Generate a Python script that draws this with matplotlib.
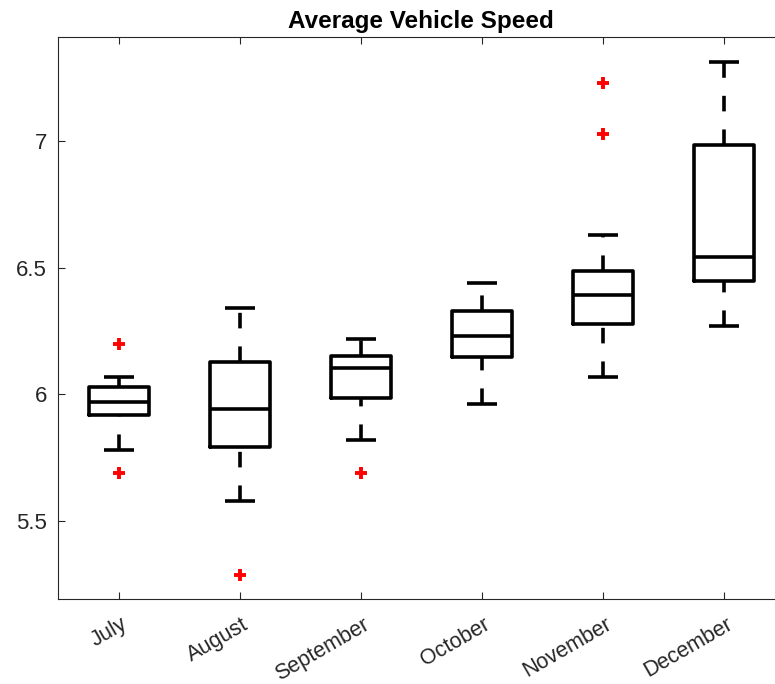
import matplotlib
matplotlib.use("Agg")
import matplotlib.pyplot as plt
import matplotlib.transforms as mtransforms

plt.rcParams["font.family"] = ["Liberation Sans", "DejaVu Sans"]
plt.rcParams["lines.scale_dashes"] = False

# Monthly speed distributions (box-plot summary statistics)
months = ["July", "August", "September", "October", "November", "December"]
q1 = [5.918, 5.793, 5.984, 6.146, 6.278, 6.447]
medians = [5.971, 5.942, 6.103, 6.231, 6.392, 6.541]
q3 = [6.030, 6.126, 6.151, 6.329, 6.487, 6.984]
whisker_low = [5.780, 5.579, 5.820, 5.961, 6.069, 6.270]
whisker_high = [6.069, 6.339, 6.220, 6.441, 6.630, 7.311]
outliers = [[6.199, 5.688], [5.287], [5.688], [], [7.230, 7.028], []]
y_ticks = [5.5, 6, 6.5, 7]
y_tick_labels = ["5.5", "6", "6.5", "7"]

axis_gray = "#262626"

stats = [
    dict(label=m, q1=a, med=b, q3=c, whislo=lo, whishi=hi, fliers=f)
    for m, a, b, c, lo, hi, f in zip(months, q1, medians, q3,
                                     whisker_low, whisker_high, outliers)
]

fig = plt.figure(figsize=(7.75, 6.84), dpi=100)
ax = fig.add_axes([0.0752, 0.1247, 0.937, 0.8208])

lw = 2.6
art = ax.bxp(
    stats,
    positions=range(1, len(months) + 1),
    widths=0.5,
    capwidths=0.25,
    showfliers=True,
    boxprops=dict(color="black", linewidth=lw, solid_joinstyle="round",
                  solid_capstyle="round"),
    medianprops=dict(color="black", linewidth=lw, solid_capstyle="butt"),
    whiskerprops=dict(color="black", linewidth=lw,
                      linestyle=(0, (11.2, 13.0)), dash_capstyle="butt"),
    capprops=dict(color="black", linewidth=lw, solid_capstyle="butt"),
    flierprops=dict(marker="+", markeredgecolor="red", markerfacecolor="red",
                    markersize=9, markeredgewidth=2.8, linestyle="none"),
)

# Lower whiskers run upward from the cap to the box
for w in art["whiskers"][0::2]:
    w.set_ydata(list(w.get_ydata())[::-1])

ax.set_xlim(0.5, 6.5)
ax.set_ylim(5.193, 7.409)
ax.set_yticks(y_ticks)
ax.set_yticklabels(y_tick_labels)
ax.set_xticks(range(1, len(months) + 1))
ax.set_xticklabels(months, rotation=30, ha="right", rotation_mode="anchor",
                   va="center")

ax.tick_params(direction="in", length=5, width=0.8, color=axis_gray,
               labelcolor=axis_gray, labelsize=16, top=True, right=True)
ax.tick_params(axis="y", pad=8)
ax.tick_params(axis="x", labelsize=15.5, pad=14)

# Nudge the slanted month names so each one ends just right of its tick
shift = mtransforms.ScaledTranslation(7 / 100, -5 / 100, fig.dpi_scale_trans)
for lab in ax.get_xticklabels():
    lab.set_transform(lab.get_transform() + shift)

for s in ax.spines.values():
    s.set_color(axis_gray)
    s.set_linewidth(0.8)

ax.set_title("Average Vehicle Speed", fontsize=17.5, fontweight="bold",
             color="black", pad=6.5)

fig.savefig("out.png", dpi=100)
